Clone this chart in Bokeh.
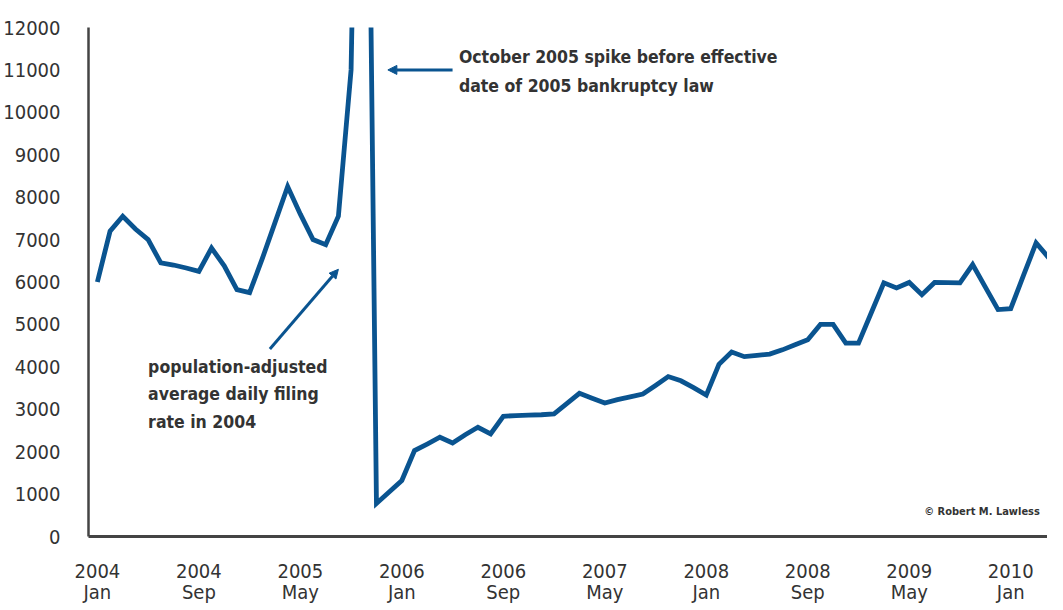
from bokeh.plotting import figure
from bokeh.models import FixedTicker, Label, Arrow, NormalHead, Range1d, ColumnDataSource
from bokeh.embed import file_html
from bokeh.resources import INLINE

# month index 0 = Jan 2004
months = list(range(76))
filings = [
    6000, 7200, 7550, 7250, 7000, 6450, 6400, 6330, 6250, 6800, 6380, 5820,
    5750, 6550, 7400, 8250, 7600, 7000, 6880, 7550, 11000, 27000, 780, 1050,
    1320, 2025, 2180, 2340, 2205, 2400, 2575, 2420, 2835, 2850, 2860, 2870,
    2890, 3130, 3375, 3260, 3145, 3225, 3290, 3357, 3560, 3770, 3670, 3510,
    3333, 4060, 4350, 4240, 4270, 4300, 4400, 4520, 4640, 5000, 5000, 4560,
    4560, 5270, 5980, 5860, 5990, 5700, 5990, 5985, 5980, 6410, 5880, 5350,
    5370, 6150, 6920, 6570,
]
tick_months = [0, 8, 16, 24, 32, 40, 48, 56, 64, 72]
tick_labels = ["2004\nJan", "2004\nSep", "2005\nMay", "2006\nJan", "2006\nSep",
               "2007\nMay", "2008\nJan", "2008\nSep", "2009\nMay", "2010\nJan"]
y_ticks = list(range(0, 13000, 1000))

note_spike = "October 2005 spike before effective\ndate of 2005 bankruptcy law"
note_avg = "population-adjusted\naverage daily filing\nrate in 2004"
credit = "\u00a9 Robert M. Lawless"

# annotation anchors (month index, value)
spike_text_pos = (28.5, 11540)
spike_arrow = (28.0, 11000, 22.9, 11000)
avg_text_pos = (4.0, 4230)
avg_arrow = (13.6, 4420, 19.0, 6300)
credit_pos = (74.3, 600)

FONT = "DejaVu Sans Condensed"
BLUE = "#0a5490"
GREY = "#333333"

p = figure(width=1047, height=607, output_backend="svg", toolbar_location=None,
           x_range=Range1d(-0.7, 74.9), y_range=Range1d(0, 12000),
           min_border_left=79, min_border_right=0, min_border_top=27,
           min_border_bottom=60)
p.outline_line_color = None
p.xgrid.visible = False
p.ygrid.visible = False

src = ColumnDataSource(dict(month=months, filings=filings))
p.line("month", "filings", source=src, line_color=BLUE, line_width=4.8,
       line_join="miter")

for ax in (p.xaxis[0], p.yaxis[0]):
    ax.major_tick_line_color = None
    ax.minor_tick_line_color = None
    ax.axis_line_color = "#444444"
    ax.major_label_text_font = FONT
    ax.major_label_text_font_size = "20px"
    ax.major_label_text_color = GREY

p.xaxis.ticker = FixedTicker(ticks=tick_months)
p.xaxis.major_label_overrides = {m: l for m, l in zip(tick_months, tick_labels)}
p.xaxis.axis_line_width = 3
p.xaxis.major_label_standoff = 16
p.xaxis.major_label_text_line_height = 0.9

p.yaxis.ticker = FixedTicker(ticks=y_ticks)
p.yaxis.axis_line_width = 2.5
p.yaxis.major_label_standoff = 22

p.add_layout(Label(x=spike_text_pos[0], y=spike_text_pos[1], text=note_spike,
                   text_font=FONT, text_font_size="17.5px", text_font_style="bold",
                   text_color=GREY, text_baseline="top", text_line_height=1.45))
p.add_layout(Arrow(x_start=spike_arrow[0], y_start=spike_arrow[1],
                   x_end=spike_arrow[2], y_end=spike_arrow[3],
                   line_color=BLUE, line_width=3,
                   end=NormalHead(size=9, fill_color=BLUE, line_color=BLUE)))

p.add_layout(Label(x=avg_text_pos[0], y=avg_text_pos[1], text=note_avg,
                   text_font=FONT, text_font_size="17.5px", text_font_style="bold",
                   text_color=GREY, text_baseline="top", text_line_height=1.37))
p.add_layout(Arrow(x_start=avg_arrow[0], y_start=avg_arrow[1],
                   x_end=avg_arrow[2], y_end=avg_arrow[3],
                   line_color=BLUE, line_width=3,
                   end=NormalHead(size=9, fill_color=BLUE, line_color=BLUE)))

p.add_layout(Label(x=credit_pos[0], y=credit_pos[1], text=credit,
                   text_font=FONT, text_font_size="11px", text_font_style="bold",
                   text_color=GREY, text_align="right", text_baseline="middle"))

open("out.html", "w").write(file_html(p, INLINE))
